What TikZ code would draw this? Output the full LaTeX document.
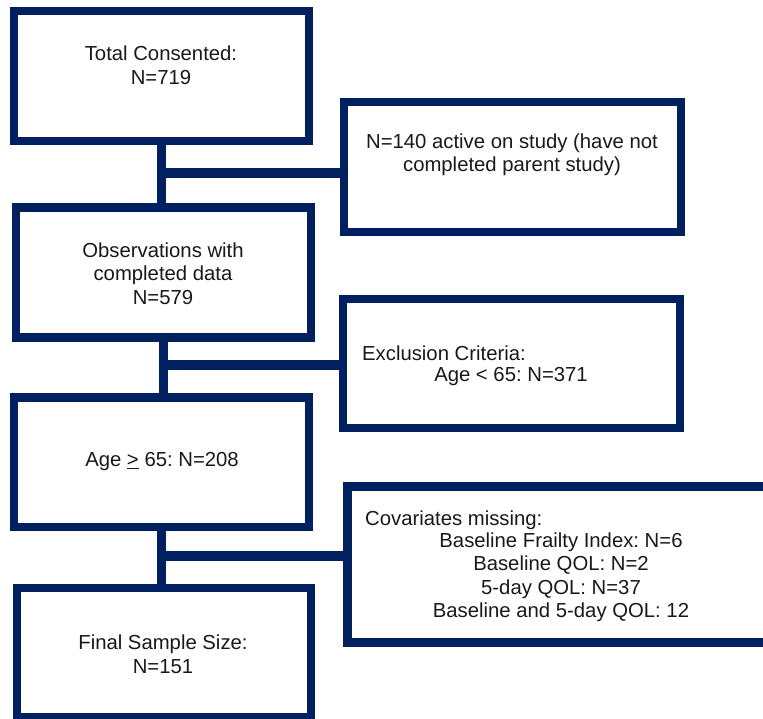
\documentclass[tikz,border=0pt]{standalone}
\usepackage{fontspec}
\setmainfont{Liberation Sans}
\frenchspacing
\definecolor{navy}{HTML}{002060}
\begin{document}
\begin{tikzpicture}[x=1pt,y=-1pt,
  box/.style={draw=navy, line width=8.5pt, rectangle, inner sep=0pt, fill=white},
  conn/.style={draw=navy, line width=9.5pt},
  txt/.style={inner sep=0pt, align=center, font=\fontsize{20.3}{23.5}\selectfont\frenchspacing, text=black!90}]
\useasboundingbox (0,0) rectangle (763,719);
\clip (0,0) rectangle (763,719);
\fill[white] (0,0) rectangle (763,719);
% connectors
\coordinate (j1) at (161,173);
\coordinate (j2) at (164,365);
\coordinate (j3) at (163,556);
% boxes
\node[box, minimum width=295pt, minimum height=130pt] (B1) at (161.5,76) {};
\node[box, minimum width=295pt, minimum height=130pt] (B2) at (163.5,272.5) {};
\node[box, minimum width=295pt, minimum height=129.5pt] (B3) at (161.5,462.25) {};
\node[box, minimum width=294pt, minimum height=129pt] (B4) at (164,652.5) {};
\node[box, minimum width=337pt, minimum height=130pt] (R1) at (512.5,167) {};
\node[box, minimum width=337pt, minimum height=129pt] (R2) at (511.5,363.5) {};
\node[box, minimum width=427pt, minimum height=156pt] (R3) at (561,564.5) {};
\draw[conn] (B1.south) -- (B1.south |- B2.north);
\draw[conn] (j1) -- (j1 -| R1.west);
\draw[conn] (B2.south) -- (B2.south |- B3.north);
\draw[conn] (j2) -- (j2 -| R2.west);
\draw[conn] (B3.south) -- (B3.south |- B4.north);
\draw[conn] (j3) -- (j3 -| R3.west);
% texts
\node[txt] (t1) at (161,65) {Total Consented:\\N=719};
\node[txt] (t2) at (512,155) {N=140 active on study (have not\\completed parent study)};
\node[txt] (t3) at (163,273.5) {Observations with\\completed data\\N=579};
\node[txt, anchor=west] (t4a) at (362,353) {Exclusion Criteria:};
\node[txt] (t4b) at (511,377) {Age < 65: N=371};
\node[txt] (t5) at (162,462) {Age \underline{>} 65: N=208};
\node[txt, anchor=west] (t6a) at (365,520) {Covariates missing:};
\node[txt] (t6b) at (561,577) {Baseline Frailty Index: N=6\\Baseline QOL: N=2\\5-day QOL: N=37\\Baseline and 5-day QOL: 12};
\node[txt] (t7) at (163,654) {Final Sample Size:\\N=151};
\end{tikzpicture}
\end{document}
